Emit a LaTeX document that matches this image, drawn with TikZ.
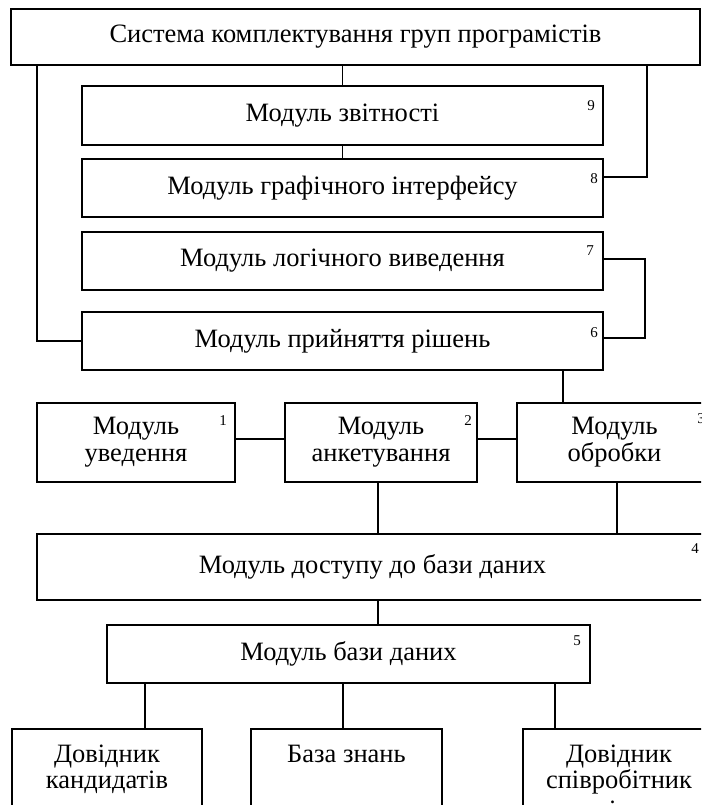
\documentclass[tikz,border=0pt]{standalone}
\usepackage{fontspec}
\setmainfont{Liberation Serif}
\usetikzlibrary{positioning}
\begin{document}
\begin{tikzpicture}[x=1pt, y=-1pt, line width=1.8pt,
	main/.style = {draw, line width=2.3pt, inner sep=0pt, align=center, font=\fontsize{26.5}{27}\selectfont},
	txt/.style = {inner sep=0pt, align=center, font=\fontsize{26.5}{26}\selectfont},
	num/.style = {inner sep=0pt, font=\fontsize{15}{15}\selectfont}]
		\useasboundingbox (0,0) rectangle (701,805);
		\clip (0,0) rectangle (701,805);
		
		\node[main, minimum width=689pt, minimum height=56pt] (0) at (355.5,37) {Система комплектування груп програмістів};
		\node[main, minimum width=521pt, minimum height=59pt] (9) at (342.5,115.5) {Модуль звітності};
		\node[main, minimum width=521pt, minimum height=58pt] (8) at (342.5,188) {Модуль графічного інтерфейсу};
		\node[main, minimum width=521pt, minimum height=58pt] (7) at (342.5,261) {Модуль логічного виведення};
		\node[main, minimum width=521pt, minimum height=58pt] (6) at (342.5,341) {Модуль прийняття рішень};
		
		\node[main, minimum width=198pt, minimum height=79pt] (1) at (136,442.5) {Модуль\\уведення};
		\node[main, minimum width=192pt, minimum height=79pt] (2) at (381,442.5) {Модуль\\анкетування};
		\node[main, minimum width=195pt, minimum height=79pt] (3) at (614.5,442.5) {Модуль\\обробки};
		
		\node[main, minimum width=671pt, minimum height=66pt] (4) at (372.5,567) {Модуль доступу до бази даних};
		\node[main, minimum width=483pt, minimum height=58pt] (5) at (348.5,654) {Модуль бази даних};
		
		\node[main, minimum width=190pt, minimum height=110pt, anchor=north] (10) at (107,728) {};
		\node[main, minimum width=191pt, minimum height=110pt, anchor=north] (11) at (346.5,728) {};
		\node[main, minimum width=192pt, minimum height=110pt, anchor=north] (12) at (619,728) {};
		\node[txt, below=16pt of 10.north] (t10) {Довідник\\кандидатів};
		\node[txt, below=16pt of 11.north] (t11) {База знань};
		\node[txt, below=16pt of 12.north] (t12) {Довідник\\співробітник\\[4pt]ів};
		
		\node[num] (n9) at ([shift={(-13pt,-21pt)}]9.north east) {9};
		\node[num] (n8) at ([shift={(-10pt,-21pt)}]8.north east) {8};
		\node[num] (n7) at ([shift={(-14pt,-20pt)}]7.north east) {7};
		\node[num] (n6) at ([shift={(-10pt,-22pt)}]6.north east) {6};
		\node[num] (n1) at ([shift={(-13pt,-19pt)}]1.north east) {1};
		\node[num] (n2) at ([shift={(-10pt,-19pt)}]2.north east) {2};
		\node[num] (n3) at ([shift={(-12pt,-17pt)}]3.north east) {3};
		\node[num] (n4) at ([shift={(-14pt,-16pt)}]4.north east) {4};
		\node[num] (n5) at ([shift={(-14pt,-17pt)}]5.north east) {5};
		
		\coordinate (0l) at (37,65);
		\coordinate (0r) at (647,65);
		
		\draw (9.north) -- (9.north |- 0.south);
		\draw (9.south) -- (8.north);
		\draw ([yshift=11pt]8.east) -| (0r);
		\draw ([yshift=2pt]7.east) -- ++(41,0) |- ([yshift=3pt]6.east);
		\draw (0l) |- (6.west);
		\draw ([xshift=-51.5pt]3.north) -- ([xshift=-51.5pt]3.north |- 6.south);
		
		\draw ([yshift=3.5pt]1.east) -- ([yshift=3.5pt]1.east -| 2.west);
		\draw ([yshift=3.5pt]2.east) -- ([yshift=3.5pt]2.east -| 3.west);
		\draw ([xshift=-3pt]2.south) -- ([xshift=-3pt]2.south |- 4.north);
		\draw ([xshift=2.5pt]3.south) -- ([xshift=2.5pt]3.south |- 4.north);
		\draw ([xshift=5.5pt]4.south) -- ([xshift=5.5pt]4.south |- 5.north);
		
		\draw ([xshift=38pt]10.north) -- ([xshift=38pt]10.north |- 5.south);
		\draw ([xshift=-3.5pt]11.north) -- ([xshift=-3.5pt]11.north |- 5.south);
		\draw ([xshift=-64pt]12.north) -- ([xshift=-64pt]12.north |- 5.south);
\end{tikzpicture}
\end{document}
